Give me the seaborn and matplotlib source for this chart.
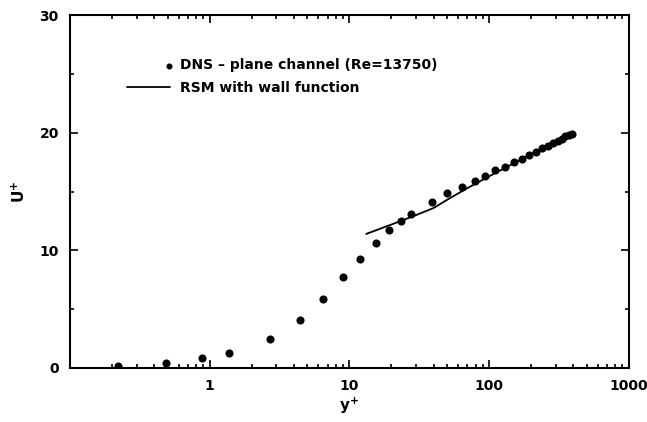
import numpy as np
import pandas as pd
import seaborn as sns
import matplotlib.pyplot as plt
from matplotlib.ticker import LogLocator, NullFormatter, MultipleLocator
from matplotlib.legend_handler import HandlerPathCollection
from matplotlib.collections import PathCollection

# DNS data (plane channel, Re=13750)
dns_yplus = [0.22, 0.49, 0.88, 1.37, 2.7, 4.4, 6.5, 9.0, 12.0, 15.6, 19.3, 23.5, 27.7,
             39, 50, 64, 79, 94, 110, 130, 150, 172, 193, 217, 240, 265, 288, 310,
             330, 350, 370, 390]
dns_uplus = [0.2, 0.42, 0.85, 1.3, 2.5, 4.1, 5.9, 7.7, 9.3, 10.6, 11.7, 12.5, 13.1,
             14.1, 14.9, 15.4, 15.9, 16.3, 16.8, 17.1, 17.5, 17.8, 18.1, 18.4, 18.7,
             18.9, 19.1, 19.3, 19.5, 19.7, 19.8, 19.9]

# RSM with wall function
rsm_yplus = [13.2, 20, 30, 40, 50, 70, 100, 150, 200, 300, 400]
rsm_uplus = [11.4, 12.2, 13.0, 13.6, 14.3, 15.3, 16.3, 17.4, 18.2, 19.2, 19.9]

dns = pd.DataFrame({'yplus': dns_yplus, 'uplus': dns_uplus})
rsm = pd.DataFrame({'yplus': rsm_yplus, 'uplus': rsm_uplus})


class RightDot(HandlerPathCollection):
    # put the legend dot at the right end of the handle box
    def get_xdata(self, legend, xdescent, ydescent, width, height, fontsize):
        x = [width - xdescent - 0.1 * fontsize]
        return x, x


sns.set_style('ticks')
plt.rcParams['font.family'] = ['DejaVu Sans']
plt.rcParams['font.weight'] = 'bold'
plt.rcParams['mathtext.default'] = 'regular'
plt.rcParams['text.color'] = 'black'
plt.rcParams['axes.labelcolor'] = 'black'
plt.rcParams['xtick.color'] = 'black'
plt.rcParams['ytick.color'] = 'black'

fig = plt.figure(figsize=(6.47, 4.22), dpi=100)
ax = fig.add_axes([0.108, 0.128, 0.864, 0.836])

sns.scatterplot(data=dns, x='yplus', y='uplus', ax=ax, color='black', s=34,
                edgecolor='black', linewidth=0, label='DNS \u2013 plane channel (Re=13750)',
                zorder=3)
sns.lineplot(data=rsm, x='yplus', y='uplus', ax=ax, color='black', linewidth=1.3,
             label='RSM with wall function')

ax.set_xscale('log')
ax.set_xlim(0.1, 1000)
ax.set_ylim(0, 30)
ax.yaxis.set_major_locator(MultipleLocator(10))
ax.yaxis.set_minor_locator(MultipleLocator(5))
ax.xaxis.set_minor_locator(LogLocator(base=10, subs=np.arange(2, 10)))
ax.xaxis.set_minor_formatter(NullFormatter())
ax.set_xticks([1, 10, 100, 1000])
ax.set_xticklabels(['1', '10', '100', '1000'])

ax.tick_params(which='both', direction='in', top=True, right=True, width=1.2,
               labelsize=10, pad=8)
ax.tick_params(which='major', length=6)
ax.tick_params(which='minor', length=3)
for sp in ax.spines.values():
    sp.set_linewidth(1.5)
    sp.set_color('black')

ax.set_xlabel('y$^{+}$', fontsize=11, fontweight='bold', labelpad=2)
ax.set_ylabel('U$^{+}$', fontsize=11, fontweight='bold', labelpad=8)

leg = ax.legend(loc='upper left', bbox_to_anchor=(0.092, 0.893), frameon=False,
                fontsize=10, handlelength=3.1, handletextpad=0.75, labelspacing=0.6,
                borderaxespad=0, handler_map={PathCollection: RightDot()},
                markerscale=0.75)
for t in leg.get_texts():
    t.set_fontweight('bold')
    t.set_color('black')

plt.savefig('out.png', dpi=100)
